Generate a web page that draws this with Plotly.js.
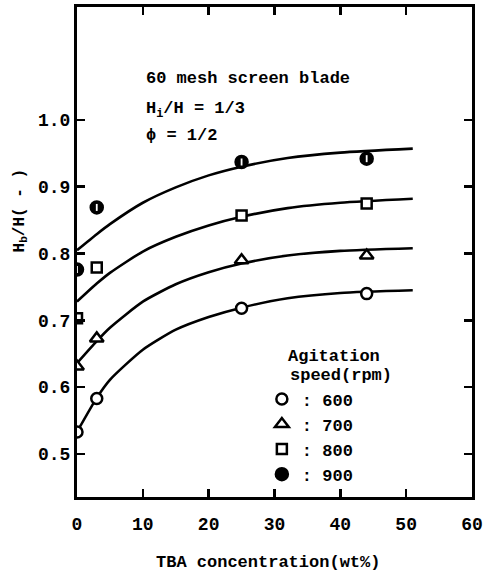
<!DOCTYPE html>
<html>
<head>
<meta charset="utf-8">
<script src="https://cdn.plot.ly/plotly-3.0.1.min.js"></script>
<style>html,body{margin:0;padding:0;background:#fff;}#chart{width:483px;height:573px;}</style>
</head>
<body>
<div id="chart"></div>
<script>
// Measured data points (TBA concentration, wt%)
const pointX = [0, 3, 25, 44];
const h600 = [0.533, 0.583, 0.718, 0.740];
const h700 = [0.631, 0.673, 0.790, 0.797];
const h800 = [0.703, 0.779, 0.857, 0.875];
const h900 = [0.776, 0.869, 0.937, 0.942];

// Fitted curves
const curveX = [0, 3, 5, 10, 15, 20, 25, 32, 40, 51];
const c600 = [0.533, 0.584, 0.611, 0.656, 0.686, 0.705, 0.719, 0.733, 0.741, 0.745];
const c700 = [0.636, 0.669, 0.689, 0.728, 0.754, 0.772, 0.785, 0.797, 0.804, 0.808];
const c800 = [0.728, 0.755, 0.771, 0.803, 0.825, 0.842, 0.855, 0.868, 0.876, 0.882];
const c900 = [0.805, 0.829, 0.844, 0.876, 0.899, 0.917, 0.930, 0.943, 0.951, 0.957];

const legendNames = [': 600', ': 700', ': 800', ': 900'];
const xTicks = [0, 10, 20, 30, 40, 50, 60];
const yTicks = [0.5, 0.6, 0.7, 0.8, 0.9, 1.0];
const yTickText = ['0.5', '0.6', '0.7', '0.8', '0.9', '1.0'];

const FONT = 'Liberation Mono, Courier New, monospace';
const ink = '#000';

const curves = [c600, c700, c800, c900].map(c => ({
  x: curveX, y: c, mode: 'lines', type: 'scatter',
  line: {color: ink, width: 2.6, shape: 'spline', smoothing: 0.6},
  showlegend: false, hoverinfo: 'skip'
}));

const markerSpecs = [
  {y: h600, symbol: 'circle', size: 11, fill: '#fff'},
  {y: h700, symbol: 'triangle-up', size: 12, fill: '#fff'},
  {y: h800, symbol: 'square', size: 10, fill: '#fff'},
  {y: h900, symbol: 'circle', size: 12, fill: ink}
];
const markers = markerSpecs.map((m, i) => ({
  x: pointX, y: m.y, mode: 'markers', type: 'scatter', name: legendNames[i],
  marker: {symbol: m.symbol, size: m.size, color: m.fill, line: {color: ink, width: 2.5}}
}));
const notch = {
  x: pointX, y: h900, mode: 'markers', type: 'scatter', showlegend: false, hoverinfo: 'skip',
  marker: {symbol: 'line-ns', size: 5, line: {color: '#fff', width: 1.8}}
};

const tickFont = {family: FONT, size: 18, color: ink, weight: 700};
const annFont = {family: FONT, size: 17, color: ink, weight: 700};

const layout = {
  width: 483, height: 573,
  margin: {l: 77, r: 11, t: 7, b: 76},
  paper_bgcolor: '#fff', plot_bgcolor: '#fff',
  showlegend: true,
  legend: {
    x: 0.468, y: 0.236, xanchor: 'left', yanchor: 'top',
    bgcolor: 'rgba(0,0,0,0)', borderwidth: 0,
    font: {family: FONT, size: 17, color: ink, weight: 700},
    itemwidth: 30
  },
  xaxis: {
    range: [0, 60], tickvals: xTicks, ticks: 'inside', ticklen: 8, tickwidth: 2.5, tickcolor: ink,
    showline: true, linewidth: 3, linecolor: ink, mirror: 'ticks',
    showgrid: false, zeroline: false, tickfont: tickFont, ticklabelstandoff: 8
  },
  yaxis: {
    range: [0.4356, 1.169], tickvals: yTicks, ticktext: yTickText, ticks: 'inside', ticklen: 8, tickwidth: 2.5, tickcolor: ink,
    showline: true, linewidth: 3, linecolor: ink, mirror: 'ticks',
    showgrid: false, zeroline: false, tickfont: tickFont, ticklabelstandoff: 0
  },
  annotations: [
    {xref: 'paper', yref: 'paper', x: 0.170, y: 0.855, xanchor: 'left', yanchor: 'middle', showarrow: false, text: '60 mesh screen blade', font: annFont},
    {xref: 'paper', yref: 'paper', x: 0.170, y: 0.790, xanchor: 'left', yanchor: 'middle', showarrow: false, text: 'H<sub>i</sub>/H = 1/3', font: annFont},
    {xref: 'paper', yref: 'paper', x: 0.170, y: 0.737, xanchor: 'left', yanchor: 'middle', showarrow: false, text: 'ϕ = 1/2', font: annFont},
    {xref: 'paper', yref: 'paper', x: 0.529, y: 0.286, xanchor: 'left', yanchor: 'middle', showarrow: false, text: 'Agitation', font: annFont},
    {xref: 'paper', yref: 'paper', x: 0.534, y: 0.247, xanchor: 'left', yanchor: 'middle', showarrow: false, text: 'speed(rpm)', font: annFont},
    {xref: 'paper', yref: 'paper', x: 0.484, y: -0.133, xanchor: 'center', yanchor: 'middle', showarrow: false, text: 'TBA concentration(wt%)', font: annFont},
    {xref: 'paper', yref: 'paper', x: -0.144, y: 0.585, xanchor: 'center', yanchor: 'middle', showarrow: false, textangle: -90, text: 'H<sub>b</sub>/H( - )', font: {family: FONT, size: 16, color: ink, weight: 700}}
  ]
};

Plotly.newPlot('chart', curves.concat(markers, [notch]), layout, {staticPlot: true, displayModeBar: false});
</script>
</body>
</html>
